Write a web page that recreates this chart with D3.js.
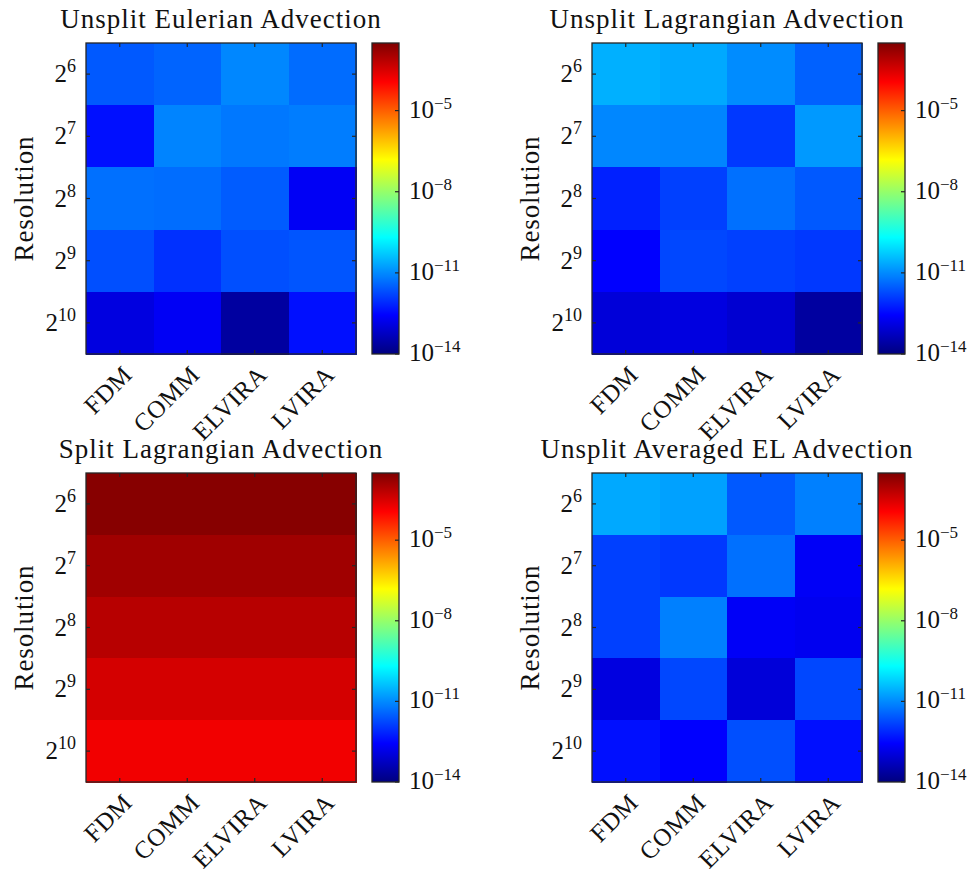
<!DOCTYPE html>
<html>
<head>
<meta charset="utf-8">
<script src="https://cdn.jsdelivr.net/npm/d3@7/dist/d3.min.js"></script>
<style>
  html, body { margin: 0; padding: 0; background: #fff; }
  svg { display: block; }
  text { font-family: "Liberation Serif", "Times New Roman", serif; fill: #111; }
</style>
</head>
<body>
<svg id="chart" width="968" height="869"></svg>
<script>
// Interface-advection error per method (columns) and grid resolution (rows)
const methods = ["FDM", "COMM", "ELVIRA", "LVIRA"];
const resolutionExponents = [6, 7, 8, 9, 10];
const colorbarTickExponents = [-5, -8, -11, -14];
const colorDomain = [1e-14, 3.16e-3];

const panelTitles = [
  "Unsplit Eulerian Advection",
  "Unsplit Lagrangian Advection",
  "Split Lagrangian Advection",
  "Unsplit Averaged EL Advection"
];

const unsplitEulerian = [
  [2.75e-12, 3.63e-12, 9.12e-12, 4.47e-12],
  [4.07e-13, 8.51e-12, 6.17e-12, 7.08e-12],
  [5.01e-12, 4.68e-12, 2.95e-12, 2.09e-13],
  [2.14e-12, 9.55e-13, 2.14e-12, 2.51e-12],
  [1.23e-13, 2.09e-13, 2.34e-14, 4.07e-13]
];
const unsplitLagrangian = [
  [2.63e-11, 2.19e-11, 1.05e-11, 3.39e-12],
  [9.12e-12, 8.71e-12, 1.17e-12, 1.45e-11],
  [6.31e-13, 1.45e-12, 5.01e-12, 2.75e-12],
  [2.75e-13, 1.74e-12, 1.45e-12, 1.17e-12],
  [1.02e-13, 1.23e-13, 8.32e-14, 2.34e-14]
];
const splitLagrangian = [
  [2.57e-3, 2.57e-3, 2.57e-3, 2.57e-3],
  [1.35e-3, 1.35e-3, 1.35e-3, 1.35e-3],
  [7.41e-4, 7.41e-4, 7.41e-4, 7.41e-4],
  [3.55e-4, 3.55e-4, 3.55e-4, 3.55e-4],
  [1.62e-4, 1.62e-4, 1.62e-4, 1.62e-4]
];
const unsplitAveragedEL = [
  [2.19e-11, 1.78e-11, 2.75e-12, 7.50e-12],
  [1.45e-12, 1.17e-12, 5.01e-12, 2.24e-13],
  [1.45e-12, 7.50e-12, 2.24e-13, 1.86e-13],
  [1.23e-13, 1.74e-12, 1.02e-13, 1.74e-12],
  [4.07e-13, 2.75e-13, 2.14e-12, 4.07e-13]
];

const panelData = [unsplitEulerian, unsplitLagrangian, splitLagrangian, unsplitAveragedEL];

// Jet colormap
function jet(t) {
  const c = v => Math.max(0, Math.min(1, v));
  const r = c(Math.min(4 * t - 1.5, -4 * t + 4.5));
  const g = c(Math.min(4 * t - 0.5, -4 * t + 3.5));
  const b = c(Math.min(4 * t + 0.5, -4 * t + 2.5));
  return d3.rgb(r * 255, g * 255, b * 255).toString();
}
const tScale = d3.scaleLog().domain(colorDomain).range([0, 1]).clamp(true);
const colorOf = v => jet(tScale(v));

const svg = d3.select("#chart");
const axisColor = "#262626";
const tickLen = 4;

// gradient for the colorbars
const defs = svg.append("defs");
const grad = defs.append("linearGradient")
  .attr("id", "jetGrad").attr("x1", 0).attr("y1", 1).attr("x2", 0).attr("y2", 0);
grad.selectAll("stop").data(d3.range(0, 1.0001, 1 / 128)).join("stop")
  .attr("offset", d => d).attr("stop-color", d => jet(d));

const frames = [
  { left: 86, top: 43, width: 270, height: 311 },
  { left: 592, top: 43, width: 270, height: 311 },
  { left: 86, top: 473, width: 270, height: 309 },
  { left: 592, top: 473, width: 270, height: 309 }
];

frames.forEach((f, i) => {
  const g = svg.append("g").attr("transform", `translate(${f.left},${f.top})`);
  const x = d3.scaleBand().domain(methods).range([0, f.width]);
  const y = d3.scaleBand().domain(resolutionExponents).range([0, f.height]);
  const data = panelData[i];

  const cells = [];
  resolutionExponents.forEach((r, ri) => methods.forEach((m, mi) =>
    cells.push({ r, m, v: data[ri][mi] })));

  g.selectAll("rect.cell").data(cells).join("rect")
    .attr("class", "cell")
    .attr("x", d => x(d.m))
    .attr("y", d => y(d.r))
    .attr("width", x.bandwidth() + 0.5)
    .attr("height", y.bandwidth() + 0.5)
    .attr("fill", d => colorOf(d.v))
    .attr("shape-rendering", "crispEdges");

  // frame
  g.append("rect").attr("width", f.width).attr("height", f.height)
    .attr("fill", "none").attr("stroke", axisColor).attr("stroke-width", 1.3);

  // inward ticks on all four sides
  const xt = methods.map(m => x(m) + x.bandwidth() / 2);
  const yt = resolutionExponents.map(r => y(r) + y.bandwidth() / 2);
  const tickG = g.append("g").attr("stroke", axisColor).attr("stroke-width", 1.2);
  tickG.selectAll("line.xb").data(xt).join("line")
    .attr("x1", d => d).attr("x2", d => d).attr("y1", f.height).attr("y2", f.height - tickLen);
  tickG.selectAll("line.xtp").data(xt).join("line")
    .attr("x1", d => d).attr("x2", d => d).attr("y1", 0).attr("y2", tickLen);
  tickG.selectAll("line.yl").data(yt).join("line")
    .attr("y1", d => d).attr("y2", d => d).attr("x1", 0).attr("x2", tickLen);
  tickG.selectAll("line.yr").data(yt).join("line")
    .attr("y1", d => d).attr("y2", d => d).attr("x1", f.width).attr("x2", f.width - tickLen);

  // x tick labels, rotated 45 degrees
  g.selectAll("text.xlab").data(methods).join("text")
    .attr("class", "xlab")
    .attr("transform", m => `translate(${x(m) + x.bandwidth() / 2 + 14},${f.height + 22}) rotate(-45)`)
    .attr("text-anchor", "end")
    .attr("font-size", 25)
    .attr("letter-spacing", 0.6)
    .text(m => m);

  // y tick labels 2^n
  const yl = g.selectAll("text.ylab").data(resolutionExponents).join("text")
    .attr("class", "ylab")
    .attr("x", -10)
    .attr("y", r => y(r) + y.bandwidth() / 2 + 8)
    .attr("text-anchor", "end")
    .attr("font-size", 25);
  yl.append("tspan").text("2");
  yl.append("tspan").attr("dy", -10).attr("font-size", 18).text(r => r);

  // y axis label
  g.append("text")
    .attr("transform", `translate(-53,${f.height / 2}) rotate(-90)`)
    .attr("text-anchor", "middle")
    .attr("font-size", 27)
    .attr("letter-spacing", 0.9)
    .text("Resolution");

  // title
  g.append("text")
    .attr("x", f.width / 2).attr("y", -15)
    .attr("text-anchor", "middle")
    .attr("font-size", 27)
    .attr("letter-spacing", 1)
    .text(panelTitles[i]);

  // colorbar
  const cbX = f.width + 16, cbW = 27;
  const cb = g.append("g").attr("transform", `translate(${cbX},0)`);
  const cy = d3.scaleLog().domain(colorDomain).range([f.height, 0]);
  cb.append("rect").attr("width", cbW).attr("height", f.height).attr("fill", "url(#jetGrad)");
  cb.append("rect").attr("width", cbW).attr("height", f.height)
    .attr("fill", "none").attr("stroke", axisColor).attr("stroke-width", 1.3);
  cb.selectAll("line.cbt").data(colorbarTickExponents).join("line")
    .attr("stroke", axisColor).attr("stroke-width", 1.2)
    .attr("x1", cbW).attr("x2", cbW - tickLen)
    .attr("y1", e => cy(Math.pow(10, e))).attr("y2", e => cy(Math.pow(10, e)));
  const cl = cb.selectAll("text.cbl").data(colorbarTickExponents).join("text")
    .attr("class", "cbl")
    .attr("x", cbW + 10)
    .attr("y", e => cy(Math.pow(10, e)) + 7)
    .attr("font-size", 25);
  cl.append("tspan").text("10");
  cl.append("tspan").attr("dy", -9).attr("font-size", 17).text(e => "\u2212" + Math.abs(e));
});
</script>
</body>
</html>
